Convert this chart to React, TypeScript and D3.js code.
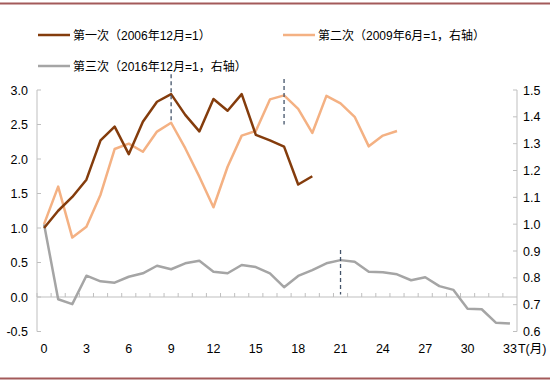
import React from "react";
import * as d3 from "d3";

const months = d3.range(0, 34);
const xTickLabels = [0, 3, 6, 9, 12, 15, 18, 21, 24, 27, 30, 33];
const leftTicks = [-0.5, 0, 0.5, 1.0, 1.5, 2.0, 2.5, 3.0];
const rightTicks = [0.6, 0.7, 0.8, 0.9, 1.0, 1.1, 1.2, 1.3, 1.4, 1.5];

const first = [1.0, 1.25, 1.45, 1.70, 2.27, 2.47, 2.07, 2.54, 2.83, 2.94, 2.64, 2.40, 2.87, 2.70, 2.94, 2.35, 2.27, 2.18, 1.63, 1.75];
const second = [1.0, 1.14, 0.95, 0.99, 1.11, 1.28, 1.30, 1.27, 1.345, 1.378, 1.283, 1.177, 1.063, 1.214, 1.33, 1.347, 1.465, 1.48, 1.43, 1.34, 1.478, 1.45, 1.40, 1.29, 1.33, 1.347];
const third = [1.0, 0.72, 0.702, 0.808, 0.787, 0.782, 0.804, 0.817, 0.845, 0.832, 0.854, 0.864, 0.823, 0.817, 0.848, 0.840, 0.817, 0.765, 0.807, 0.829, 0.854, 0.866, 0.86, 0.823, 0.821, 0.813, 0.791, 0.802, 0.769, 0.755, 0.685, 0.683, 0.633, 0.630];

// peak markers: [month, series, value span]
const peaks = [
  { m: 9, axis: "left", top: 3.23, bottom: 2.56 },
  { m: 17, axis: "left", top: 3.16, bottom: 2.50 },
  { m: 21, axis: "right", top: 0.904, bottom: 0.738 },
];

const legendItems = [
  { label: "第一次（2006年12月=1）", color: "#843C0C", x: 38, y: 35 },
  { label: "第二次（2009年6月=1，右轴）", color: "#F4B183", x: 283, y: 35 },
  { label: "第三次（2016年12月=1，右轴）", color: "#A5A5A5", x: 38, y: 66 },
];

export default function App() {
  const W = 550, H = 382;
  const L = 37, R = 517, T = 90, B = 331.5;
  const x = d3.scaleBand<number>().domain(months).range([L, R]);
  const xc = (m: number) => (x(m) as number) + x.bandwidth() / 2;
  const yL = d3.scaleLinear().domain([-0.5, 3.0]).range([B, T]);
  const yR = d3.scaleLinear().domain([0.6, 1.5]).range([B, T]);
  const zeroY = yL(0);

  const lineL = d3.line<number>().x((_, i) => xc(i)).y((d) => yL(d));
  const lineR = d3.line<number>().x((_, i) => xc(i)).y((d) => yR(d));
  const axisColor = "#BFBFBF";
  const font = "'Liberation Sans', Arial, sans-serif";
  const cjk = "'Liberation Sans', 'Noto Sans CJK SC', sans-serif";

  return (
    <svg width={W} height={H} style={{ position: "absolute", left: 0, top: 0, background: "#fff" }}>
      <line x1={0} x2={W} y1={3.5} y2={3.5} stroke="#A35A5A" strokeWidth={2} />
      <line x1={0} x2={W} y1={378.5} y2={378.5} stroke="#A35A5A" strokeWidth={2} />

      {legendItems.map((it) => (
        <g key={it.label}>
          <line x1={it.x} x2={it.x + 32} y1={it.y} y2={it.y} stroke={it.color} strokeWidth={2.5} />
          <text x={it.x + 35} y={it.y + 4.5} fontSize={12} fontFamily={cjk} fill="#000">{it.label}</text>
        </g>
      ))}

      {/* left axis */}
      <line x1={L} x2={L} y1={T} y2={B} stroke={axisColor} strokeWidth={1} />
      {leftTicks.map((t) => (
        <g key={"l" + t}>
          <line x1={L} x2={L + 4} y1={yL(t)} y2={yL(t)} stroke={axisColor} />
          <text x={28} y={yL(t) + 4.5} textAnchor="end" fontSize={12.5} fontFamily={font} fill="#000">{t.toFixed(1)}</text>
        </g>
      ))}
      {/* right axis */}
      <line x1={R} x2={R} y1={T} y2={B} stroke={axisColor} strokeWidth={1} />
      {rightTicks.map((t) => (
        <g key={"r" + t}>
          <line x1={R - 4} x2={R} y1={yR(t)} y2={yR(t)} stroke={axisColor} />
          <text x={523} y={yR(t) + 4.5} textAnchor="start" fontSize={12.5} fontFamily={font} fill="#000">{t.toFixed(1)}</text>
        </g>
      ))}
      {/* x axis at zero */}
      <line x1={L} x2={R} y1={zeroY} y2={zeroY} stroke={axisColor} strokeWidth={1} />
      {months.map((m) => (
        <line key={"xt" + m} x1={x(m) as number} x2={x(m) as number} y1={zeroY - 4} y2={zeroY} stroke={axisColor} />
      ))}
      {xTickLabels.map((m) => (
        <text key={"xl" + m} x={xc(m)} y={353} textAnchor="middle" fontSize={12.5} fontFamily={font} fill="#000">{m}</text>
      ))}
      <text x={xc(33) + 8} y={353} fontSize={12.5} fontFamily={cjk} fill="#000">T(月)</text>

      {/* series */}
      <path d={lineR(third) || ""} fill="none" stroke="#A5A5A5" strokeWidth={2.5} strokeLinejoin="round" />
      <path d={lineR(second) || ""} fill="none" stroke="#F4B183" strokeWidth={2.5} strokeLinejoin="round" />
      <path d={lineL(first) || ""} fill="none" stroke="#843C0C" strokeWidth={2.5} strokeLinejoin="round" />

      {peaks.map((p) => {
        const ys = p.axis === "left" ? yL : yR;
        return (
          <line key={"pk" + p.m} x1={xc(p.m)} x2={xc(p.m)} y1={ys(p.top)} y2={ys(p.bottom)} stroke="#44546A" strokeWidth={1.3} strokeDasharray="4,3" />
        );
      })}
    </svg>
  );
}
